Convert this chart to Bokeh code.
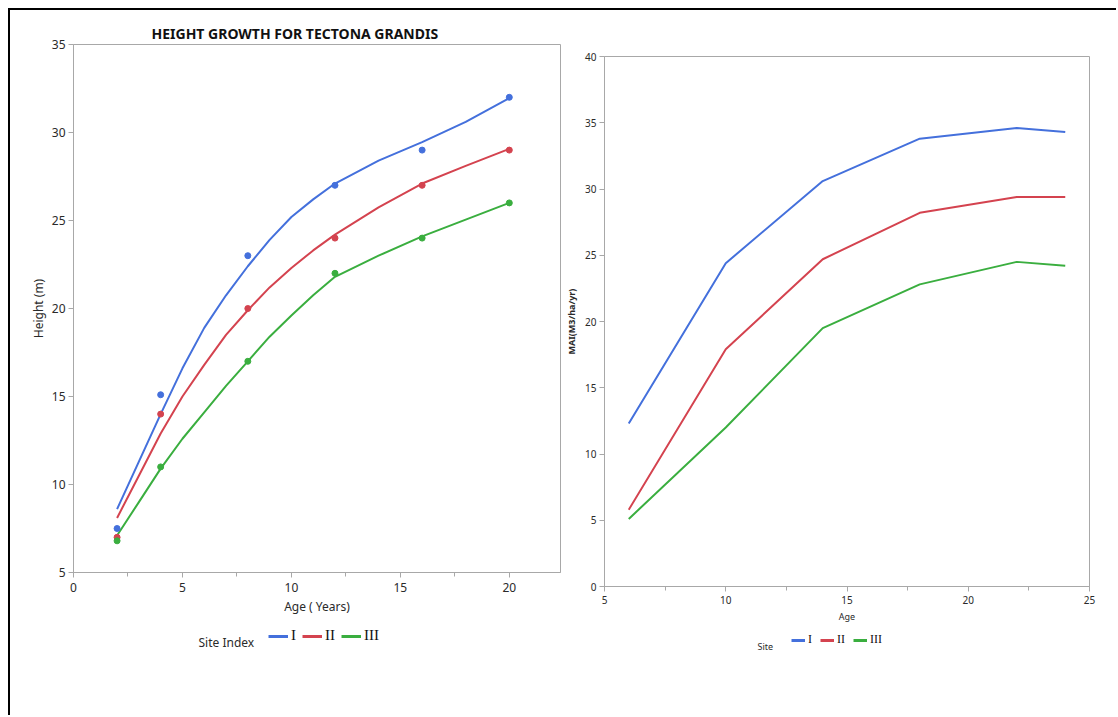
from bokeh.plotting import figure
from bokeh.models import Range1d, Legend, LegendItem, Label, SingleIntervalTicker
from bokeh.layouts import row, column
from bokeh.embed import file_html
from bokeh.resources import INLINE

# ---------------- Data: left chart (height growth) ----------------
age_obs = [2, 4, 8, 12, 16, 20]
h_obs_I = [7.5, 15.1, 23.0, 27.0, 29.0, 32.0]
h_obs_II = [7.0, 14.0, 20.0, 24.0, 27.0, 29.0]
h_obs_III = [6.8, 11.0, 17.0, 22.0, 24.0, 26.0]

# fitted growth curves
age_fit = [2, 3, 4, 5, 6, 7, 8, 9, 10, 11, 12, 14, 16, 18, 20]
h_fit_I = [8.6, 11.3, 14.0, 16.6, 18.9, 20.75, 22.4, 23.9, 25.2, 26.2, 27.1, 28.4, 29.45, 30.6, 31.95]
h_fit_II = [8.1, 10.5, 12.9, 15.0, 16.8, 18.5, 19.9, 21.2, 22.3, 23.3, 24.2, 25.75, 27.1, 28.1, 29.07]
h_fit_III = [7.1, 9.0, 10.9, 12.6, 14.1, 15.6, 17.0, 18.4, 19.6, 20.75, 21.8, 23.0, 24.1, 25.05, 26.0]

# ---------------- Data: right chart (MAI) ----------------
mai_age = [6, 10, 14, 18, 22, 24]
mai_I = [12.3, 24.4, 30.6, 33.8, 34.6, 34.3]
mai_II = [5.8, 17.9, 24.7, 28.2, 29.4, 29.4]
mai_III = [5.1, 12.0, 19.5, 22.8, 24.5, 24.2]

site_labels = ["I", "II", "III"]

FONT = "Noto Sans"
SERIF = "Liberation Serif"
BLUE, RED, GREEN = "#4470dc", "#d4434f", "#3aae3f"
COLORS = [BLUE, RED, GREEN]
AXIS = "#a8a8a8"
TXT = "#2a2a2a"
NAN = float("nan")


def style_axes(p, tick_size, label_size, label_style="normal"):
    p.grid.visible = False
    p.outline_line_color = AXIS
    for ax in (p.xaxis[0], p.yaxis[0]):
        ax.axis_line_color = AXIS
        ax.major_tick_line_color = AXIS
        ax.minor_tick_line_color = AXIS
        ax.major_tick_in = 0
        ax.major_tick_out = 5
        ax.minor_tick_in = 0
        ax.minor_tick_out = 4
        ax.major_label_text_font = FONT
        ax.major_label_text_font_size = tick_size
        ax.major_label_text_color = TXT
        ax.axis_label_text_font = FONT
        ax.axis_label_text_font_size = label_size
        ax.axis_label_text_font_style = label_style
        ax.axis_label_text_color = TXT


def legend_figure(width, height, title, title_size, title_xy, leg_xy, label_size,
                  glyph_w, glyph_h, spacing):
    # a frameless strip under a chart that only carries its legend
    lf = figure(width=width, height=height, x_range=Range1d(0, 1), y_range=Range1d(0, 1),
                output_backend="svg", toolbar_location=None,
                x_axis_type=None, y_axis_type=None,
                min_border=0, min_border_left=0, min_border_right=0,
                min_border_top=0, min_border_bottom=0)
    lf.grid.visible = False
    lf.outline_line_color = None
    rs = [lf.line([NAN], [NAN], color=c, line_width=3) for c in COLORS]
    leg = Legend(items=[LegendItem(label=lab, renderers=[r]) for lab, r in zip(site_labels, rs)],
                 orientation="horizontal", location=leg_xy,
                 label_text_font=SERIF, label_text_font_size=label_size,
                 label_text_color="#111111", label_height=glyph_h, label_width=1,
                 glyph_width=glyph_w, glyph_height=glyph_h, label_standoff=3, spacing=spacing,
                 padding=0, margin=0, border_line_color=None, background_fill_alpha=0)
    lf.add_layout(leg, "center")
    lf.add_layout(Label(x=title_xy[0], y=title_xy[1], x_units="screen", y_units="screen",
                        text=title, text_font=FONT, text_font_size=title_size,
                        text_color=TXT, text_baseline="middle"))
    return lf


# ---------------- Left figure ----------------
p1 = figure(width=552, height=612, x_range=Range1d(0, 22.35), y_range=Range1d(5, 35),
            output_backend="svg", toolbar_location=None,
            min_border_left=63, min_border_right=2, min_border_top=34, min_border_bottom=50)
p1.xaxis.ticker = SingleIntervalTicker(interval=5, num_minor_ticks=2)
p1.yaxis.ticker = SingleIntervalTicker(interval=5, num_minor_ticks=0)
style_axes(p1, "12px", "12px")
p1.xaxis.axis_label = "Age ( Years)"
p1.yaxis.axis_label = "Height (m)"
p1.xaxis.major_label_standoff = 5
p1.xaxis.axis_label_standoff = 3
p1.yaxis.major_label_standoff = 3
p1.yaxis.axis_label_standoff = 2

p1.title.text = "HEIGHT GROWTH FOR TECTONA GRANDIS"
p1.title.text_font = FONT
p1.title.text_font_size = "14px"
p1.title.text_font_style = "bold"
p1.title.text_color = "#111111"
p1.title.align = "left"
p1.title.offset = 78
p1.title.standoff = 3

p1.line(age_fit, h_fit_I, color=BLUE, line_width=2)
p1.line(age_fit, h_fit_II, color=RED, line_width=2)
p1.line(age_fit, h_fit_III, color=GREEN, line_width=2)
p1.scatter(age_obs, h_obs_I, size=6, color=BLUE)
p1.scatter(age_obs, h_obs_II, size=6, color=RED)
p1.scatter(age_obs, h_obs_III, size=6, color=GREEN)

lf1 = legend_figure(552, 93, "Site Index", "12px", (125, 73), (195, 71), "15px", 20, 14, 6)

# ---------------- Right figure ----------------
p2 = figure(width=554, height=616, x_range=Range1d(5, 25), y_range=Range1d(0, 40),
            output_backend="svg", toolbar_location=None,
            min_border_left=37, min_border_right=27, min_border_top=46, min_border_bottom=40)
p2.xaxis.ticker = SingleIntervalTicker(interval=5, num_minor_ticks=2)
p2.yaxis.ticker = SingleIntervalTicker(interval=5, num_minor_ticks=0)
style_axes(p2, "10px", "9px")
p2.xaxis.axis_label = "Age"
p2.yaxis.axis_label = "MAI(M3/ha/yr)"
p2.yaxis.axis_label_text_font_style = "bold"
p2.xaxis.major_label_standoff = 4
p2.xaxis.axis_label_standoff = 3
p2.yaxis.major_label_standoff = 3
p2.yaxis.axis_label_standoff = 4

p2.line(mai_age, mai_I, color=BLUE, line_width=2)
p2.line(mai_age, mai_II, color=RED, line_width=2)
p2.line(mai_age, mai_III, color=GREEN, line_width=2)

lf2 = legend_figure(554, 89, "Site", "9px", (153, 69), (187, 68), "12px", 14, 12, 8)

layout = row(column(p1, lf1), column(p2, lf2), margin=(8, 0, 0, 8),
             styles={"border-left": "2px solid #000", "border-top": "2px solid #000"})

open("out.html", "w").write(file_html(layout, INLINE))
